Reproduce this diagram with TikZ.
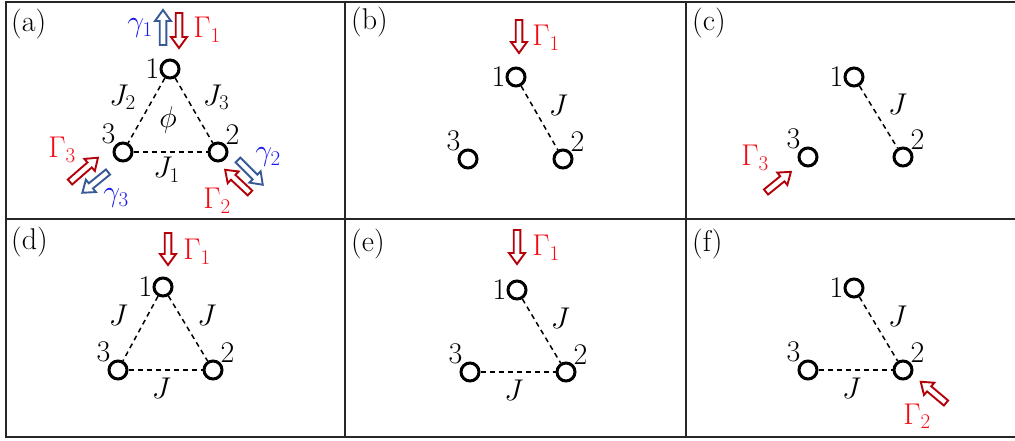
\RequirePackage{fix-cm}
\documentclass[tikz,border=0pt]{standalone}
\usepackage{amsmath}
\usepackage{xcolor}
\usetikzlibrary{positioning}
\definecolor{arrowred}{RGB}{180,0,8}
\definecolor{arrowblue}{RGB}{55,90,150}
\definecolor{textred}{RGB}{245,10,20}
\definecolor{textblue}{RGB}{25,25,240}

\tikzset{
  fatarrow/.pic={
    \draw[line width=1.9pt, line join=miter, fill=white]
      (0,-3.3) -- (#1-11,-3.3) -- (#1-11,-8) -- (#1,0) -- (#1-11,8) -- (#1-11,3.3) -- (0,3.3) -- cycle;
  }
}

\begin{document}
\begin{tikzpicture}[
x=1pt, y=-1pt,
font=\fontsize{30}{36}\selectfont,
site/.style={circle, draw, line width=3pt, minimum size=18pt, inner sep=0pt},
bond/.style={dash pattern=on 5pt off 4pt, line width=1.5pt},
gain/.style={color=arrowred},
loss/.style={color=arrowblue},
panel/.style={anchor=north west, inner sep=0pt},
num/.style={inner sep=0pt},
jl/.style={midway, xshift=-22pt, yshift=13pt},
jr/.style={midway, xshift=19pt, yshift=13pt},
jb/.style={midway, xshift=-4pt, yshift=-18pt},
frame/.style={line width=2pt, draw=black!85}
]
    \useasboundingbox (0,0) rectangle (1015,441);
    % Frames
    \draw[frame] (1016,2) -- (5.5,2) -- (5.5,437) -- (1016,437);
    \draw[frame] (5.5,218.5) -- (1016,218.5);
    \draw[frame] (344.5,2) -- (344.5,437);
    \draw[frame] (686,2) -- (686,437);

    % (a)
    \node[panel] (la) at (11,9) {(a)};
    \node[site, label={[num]left:1}] (a1) at (170,69) {};
    \node[site, label={[num]north east:2}] (a2) at (218,152) {};
    \node[site, label={[num]north west:3}] (a3) at (123,152) {};
    \draw[bond] (a1) -- (a3) node[jl, xshift=-2pt] {$J_2$};
    \draw[bond] (a1) -- (a2) node[jr, xshift=3pt] {$J_3$};
    \draw[bond] (a3) -- (a2) node[jb] {$J_1$};
    \node (phi) at (168,120) {$\phi$};
    \pic[loss, rotate=90] at (163,45) {fatarrow=35};
    \pic[gain, rotate=-90] at (179,13) {fatarrow=35};
    \pic[gain, rotate=41] at (70,182) {fatarrow=37};
    \pic[loss, rotate=-141] at (108,172) {fatarrow=33};
    \pic[gain, rotate=137] at (250,193) {fatarrow=34};
    \pic[loss, rotate=-45] at (238,160) {fatarrow=35};
    \node[textblue] (ga1) at (140,28) {$\gamma_1$};
    \node[textred] (Ga1) at (207,30) {$\Gamma_1$};
    \node[textred] (Ga3) at (62,150) {$\Gamma_3$};
    \node[textblue] (ga3) at (116,198) {$\gamma_3$};
    \node[textred] (Ga2) at (217,201) {$\Gamma_2$};
    \node[textblue] (ga2) at (268,157) {$\gamma_2$};

    % (b)
    \node[panel] (lb) at (351,7) {(b)};
    \node[site, label={[num]left:1}] (b1) at (516,77) {};
    \node[site, label={[num]north east:2}] (b2) at (563,159) {};
    \node[site, label={[num]north west:3}] (b3) at (468,159) {};
    \draw[bond] (b1) -- (b2) node[jr] {$J$};
    \pic[gain, rotate=-90] at (519,20) {fatarrow=33};
    \node[textred] (Gb1) at (546,38) {$\Gamma_1$};

    % (c)
    \node[panel] (lc) at (692,8) {(c)};
    \node[site, label={[num]left:1}] (c1) at (854,77) {};
    \node[site, label={[num]north east:2}] (c2) at (903,157) {};
    \node[site, label={[num]north west:3}] (c3) at (808,157) {};
    \draw[bond] (c1) -- (c2) node[jr] {$J$};
    \pic[gain, rotate=39] at (766,192) {fatarrow=32};
    \node[textred] (Gc3) at (755,158) {$\Gamma_3$};

    % (d)
    \node[panel] (ld) at (11,227) {(d)};
    \node[site, label={[num]left:1}] (d1) at (163,287) {};
    \node[site, label={[num]north east:2}] (d2) at (213,370) {};
    \node[site, label={[num]north west:3}] (d3) at (118,370) {};
    \draw[bond] (d1) -- (d3) node[jl] {$J$};
    \draw[bond] (d1) -- (d2) node[jr] {$J$};
    \draw[bond] (d3) -- (d2) node[jb] {$J$};
    \pic[gain, rotate=-90] at (168,233) {fatarrow=32};
    \node[textred] (Gd1) at (197,252) {$\Gamma_1$};

    % (e)
    \node[panel] (le) at (351,229) {(e)};
    \node[site, label={[num]left:1}] (e1) at (517,290) {};
    \node[site, label={[num]north east:2}] (e2) at (566,372) {};
    \node[site, label={[num]north west:3}] (e3) at (470,372) {};
    \draw[bond] (e1) -- (e2) node[jr] {$J$};
    \draw[bond] (e3) -- (e2) node[jb] {$J$};
    \pic[gain, rotate=-90] at (517,230) {fatarrow=34};
    \node[textred] (Ge1) at (546,248) {$\Gamma_1$};

    % (f)
    \node[panel] (lf) at (692,229) {(f)};
    \node[site, label={[num]left:1}] (f1) at (854,288) {};
    \node[site, label={[num]north east:2}] (f2) at (903,370) {};
    \node[site, label={[num]north west:3}] (f3) at (808,370) {};
    \draw[bond] (f1) -- (f2) node[jr] {$J$};
    \draw[bond] (f3) -- (f2) node[jb] {$J$};
    \pic[gain, rotate=140] at (946,403) {fatarrow=33};
    \node[textred] (Gf2) at (917,416) {$\Gamma_2$};
\end{tikzpicture}
\end{document}
